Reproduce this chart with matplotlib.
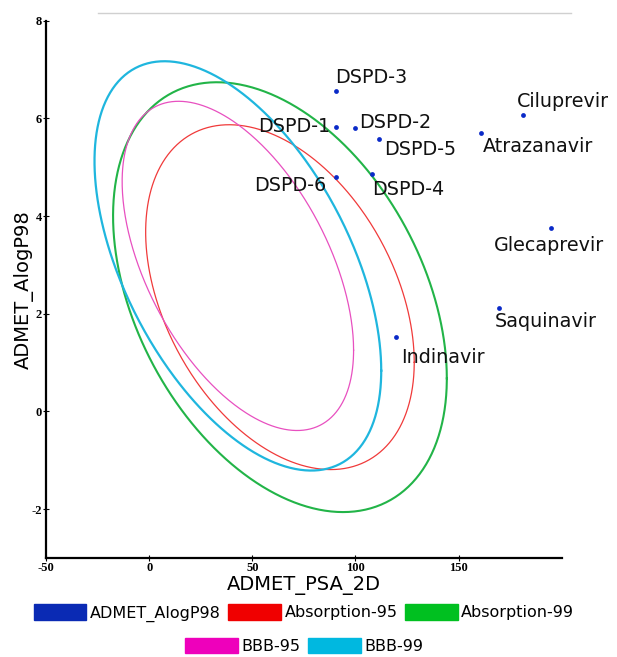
import numpy as np
import matplotlib
matplotlib.use("Agg")
import matplotlib.pyplot as plt
from matplotlib.patches import Patch
from matplotlib.lines import Line2D
plt.rcParams["axes.unicode_minus"] = False

# compounds (PSA_2D, AlogP98)
names = ["DSPD-1", "DSPD-2", "DSPD-3", "DSPD-4", "DSPD-5", "DSPD-6",
         "Ciluprevir", "Atrazanavir", "Glecaprevir", "Saquinavir", "Indinavir"]
psa = [90.7, 99.6, 90.5, 107.9, 111.3, 90.7, 181.2, 160.9, 194.9, 169.4, 119.7]
alogp = [5.82, 5.80, 6.56, 4.87, 5.57, 4.79, 6.07, 5.71, 3.75, 2.11, 1.52]

# confidence ellipses: centre, half extents along x / y, correlation
ell_names = ["Absorption-95", "Absorption-99", "BBB-95", "BBB-99"]
ell_cx = [63.4, 63.4, 43.0, 43.0]
ell_cy = [2.34, 2.34, 2.98, 2.98]
ell_sx = [65.1, 80.9, 56.1, 69.5]
ell_sy = [3.53, 4.40, 3.37, 4.19]
ell_rho = [-0.378, -0.378, -0.512, -0.512]
ell_colors = ["#f03a3a", "#22b448", "#e850c0", "#1fb6de"]
ell_lw = [0.9, 1.5, 0.9, 1.6]

# label placement (pixel offsets from the dot, alignment)
lab_off = {
    "DSPD-3": (-1, 8, "left"), "DSPD-1": (-6, -5, "right"),
    "DSPD-2": (5, 0, "left"), "DSPD-5": (5, -16, "left"),
    "DSPD-6": (-10, -14, "right"), "DSPD-4": (0, -21, "left"),
    "Ciluprevir": (-6, 8, "left"), "Atrazanavir": (2, -19, "left"),
    "Glecaprevir": (-2, -23, "center"), "Saquinavir": (-4, -19, "left"),
    "Indinavir": (5, -26, "left"),
}

fig = plt.figure(figsize=(6.17, 6.57), dpi=100)
ax = fig.add_axes([0.0746, 0.1507, 0.8358, 0.8178])

t = np.linspace(0, 2 * np.pi, 500)
for i in range(len(ell_names)):
    r = ell_rho[i]
    x = ell_cx[i] + ell_sx[i] * np.cos(t)
    y = ell_cy[i] + ell_sy[i] * (r * np.cos(t) + np.sqrt(1 - r * r) * np.sin(t))
    ax.plot(x, y, color=ell_colors[i], lw=ell_lw[i])

ax.scatter(psa, alogp, s=12, color="#0a2ac8", zorder=3, linewidths=0)

for n, x, y in zip(names, psa, alogp):
    dx, dy, ha = lab_off[n]
    ax.annotate(n, (x, y), xytext=(dx, dy), textcoords="offset pixels",
                ha=ha, va="baseline", fontsize=13.8, color="#111111")

ax.set_xlim(-50, 200)
ax.set_ylim(-3, 8)
ax.set_xticks([-50, 0, 50, 100, 150])
ax.set_yticks([-2, 0, 2, 4, 6, 8])
for s in ["top", "right"]:
    ax.spines[s].set_visible(False)
for s in ["left", "bottom"]:
    ax.spines[s].set_linewidth(1.6)
ax.tick_params(direction="inout", length=4.5, width=0.8, pad=0.8)
for lbl in ax.get_xticklabels() + ax.get_yticklabels():
    lbl.set_fontfamily("Liberation Serif")
    lbl.set_fontweight("bold")
    lbl.set_fontsize(9)

ax.set_xlabel("ADMET_PSA_2D", fontsize=14)
ax.set_ylabel("ADMET_AlogP98", fontsize=14)
ax.xaxis.set_label_coords(0.5, -0.033)
ax.yaxis.set_label_coords(-0.023, 0.5)

# faint rule at the top
fig.add_artist(Line2D([98 / 617, 571 / 617], [1 - 13 / 657] * 2, color="#d0d0d0", lw=1))

leg_kw = dict(loc="center", frameon=False, fontsize=11.5, handlelength=3.3,
              handleheight=1.1, handletextpad=0.2, columnspacing=0.5, borderpad=0)
row1 = [Patch(color="#0a2ab4", label="ADMET_AlogP98"),
        Patch(color="#f00000", label="Absorption-95"),
        Patch(color="#00c020", label="Absorption-99")]
row2 = [Patch(color="#ee00bb", label="BBB-95"),
        Patch(color="#00b8e0", label="BBB-99")]
fig.legend(handles=row1, ncol=3, bbox_to_anchor=(304 / 617, 1 - 613 / 657), **leg_kw)
fig.legend(handles=row2, ncol=2, bbox_to_anchor=(304 / 617, 1 - 646 / 657), **leg_kw)

fig.savefig("out.png", dpi=100)
